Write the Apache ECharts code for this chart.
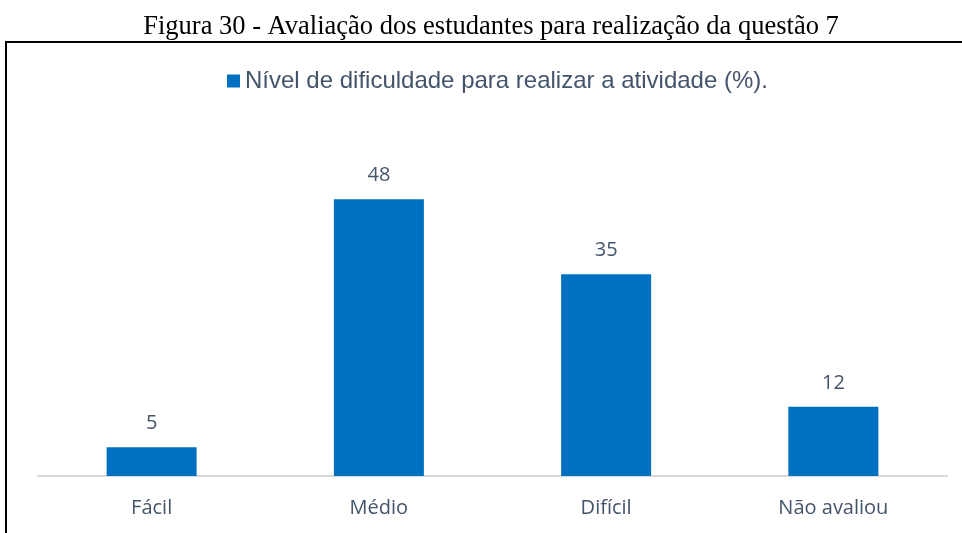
<!DOCTYPE html>
<html><head><meta charset="utf-8">
<script src="https://cdn.jsdelivr.net/npm/echarts@6/dist/echarts.min.js"></script>
<style>html,body{margin:0;padding:0;background:#fff}#c{width:962px;height:533px}</style>
</head><body><div id="c"></div>
<script>
const categories = ['Fácil', 'Médio', 'Difícil', 'Não avaliou'];
const values = [5, 48, 35, 12];
const seriesName = 'Nível de dificuldade para realizar a atividade (%).';
const titleText = 'Figura 30 - Avaliação dos estudantes para realização da questão 7';

const chart = echarts.init(document.getElementById('c'), null, {renderer: 'canvas'});
chart.setOption({
  animation: false,
  title: {
    text: titleText, left: 491, top: 14, textAlign: 'center', padding: 0,
    textStyle: {fontFamily: 'Liberation Serif', fontSize: 26.5, fontWeight: 'normal', color: '#000'}
  },
  graphic: [{
    type: 'rect', shape: {x: 6, y: 42, width: 1000, height: 600},
    style: {fill: 'none', stroke: '#000', lineWidth: 2}, silent: true
  }],
  legend: {
    data: [seriesName], left: 222, top: 64, icon: 'rect', itemWidth: 13, itemHeight: 13, itemGap: 4,
    textStyle: {fontFamily: 'Liberation Sans', fontSize: 24, color: '#44546a'}
  },
  grid: {left: 38, right: 15, top: 130, bottom: 57, containLabel: false},
  xAxis: {
    type: 'category', data: categories,
    axisLine: {lineStyle: {color: '#d9d9d9', width: 2}},
    axisTick: {show: false},
    axisLabel: {margin: 22, fontFamily: 'Open Sans', fontSize: 20, color: '#44546a'}
  },
  yAxis: {type: 'value', min: 0, max: 60, show: false, splitLine: {show: false}},
  series: [{
    name: seriesName, type: 'bar', data: values, barWidth: 90,
    itemStyle: {color: '#0070c0'},
    label: {show: true, position: 'top', distance: 14, fontFamily: 'Open Sans', fontSize: 20, color: '#44546a'}
  }]
});
</script></body></html>
